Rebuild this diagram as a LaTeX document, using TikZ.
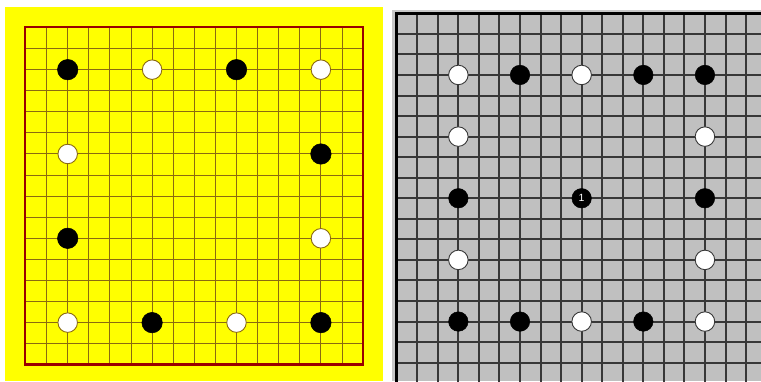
\documentclass[tikz,border=0pt]{standalone}
\usepackage{fontspec}
\setsansfont{Liberation Sans}
\definecolor{boardyellow}{HTML}{FFFF00}
\definecolor{edgered}{HTML}{990000}
\definecolor{gridbrown}{HTML}{8A6A10}
\definecolor{boardgray}{HTML}{C0C0C0}
\definecolor{rimgray}{HTML}{C8C8C8}
\definecolor{gridgray}{HTML}{383838}
\tikzset{
  bstone/.style={circle, fill=black, draw=black, line width=0.5bp, inner sep=0pt, minimum size=#1},
  wstone/.style={circle, fill=white, draw=#1, line width=0.9bp, inner sep=0pt, minimum size=19.5bp},
  bstone/.default=20.5bp,
  wstone/.default=gridbrown,
  lgrid/.style={gridbrown, line width=1.2bp},
  rgrid/.style={gridgray, line width=1.8bp},
}
\begin{document}
\begin{tikzpicture}[x=1bp,y=-1bp]
\useasboundingbox (0,0) rectangle (761,381);
\clip (0,0) rectangle (761,381);
% ---------- left board ----------
\fill[boardyellow] (5,7) rectangle (383,381);
\foreach \i in {1,...,15} {
  \draw[lgrid] ({round(25+\i*21.1)+0.5},27) -- ({round(25+\i*21.1)+0.5},364);
  \draw[lgrid] (25,{round(27+\i*21.08)+0.5}) -- (363,{round(27+\i*21.08)+0.5});
}
\draw[edgered, line width=2.2bp] (25,27) rectangle (363,364.5);
\newcommand{\lx}[1]{25.5+#1*21.1}
\newcommand{\ly}[1]{27.5+#1*21.08}
\node[bstone] (L1) at ({\lx{2}},{\ly{2}}) {};
\node[wstone] (L2) at ({\lx{6}},{\ly{2}}) {};
\node[bstone] (L3) at ({\lx{10}},{\ly{2}}) {};
\node[wstone] (L4) at ({\lx{14}},{\ly{2}}) {};
\node[wstone] (L5) at ({\lx{2}},{\ly{6}}) {};
\node[bstone] (L6) at ({\lx{14}},{\ly{6}}) {};
\node[bstone] (L7) at ({\lx{2}},{\ly{10}}) {};
\node[wstone] (L8) at ({\lx{14}},{\ly{10}}) {};
\node[wstone] (L9) at ({\lx{2}},{\ly{14}}) {};
\node[bstone] (L10) at ({\lx{6}},{\ly{14}}) {};
\node[wstone] (L11) at ({\lx{10}},{\ly{14}}) {};
\node[bstone] (L12) at ({\lx{14}},{\ly{14}}) {};
% ---------- right board ----------
\fill[rimgray] (392,10) rectangle (761,381);
\fill[boardgray] (396,13) rectangle (761,381);
\foreach \i in {1,...,18} {
  \draw[rgrid] ({round(396.7+\i*20.55)},13) -- ({round(396.7+\i*20.55)},400);
  \draw[rgrid] (396,{round(13.3+\i*20.55)}) -- (780,{round(13.3+\i*20.55)});
}
\draw[black, line width=3bp] (396.5,400) -- (396.5,13.5) -- (780,13.5);
\newcommand{\rx}[1]{396.7+#1*20.55}
\newcommand{\ry}[1]{13.3+#1*20.55}
\node[wstone=gridgray] (R1) at ({\rx{3}},{\ry{3}}) {};
\node[bstone=19.5bp] (R2) at ({\rx{6}},{\ry{3}}) {};
\node[wstone=gridgray] (R3) at ({\rx{9}},{\ry{3}}) {};
\node[bstone=19.5bp] (R4) at ({\rx{12}},{\ry{3}}) {};
\node[bstone=19.5bp] (R5) at ({\rx{15}},{\ry{3}}) {};
\node[wstone=gridgray] (R6) at ({\rx{3}},{\ry{6}}) {};
\node[wstone=gridgray] (R7) at ({\rx{15}},{\ry{6}}) {};
\node[bstone=19.5bp] (R8) at ({\rx{3}},{\ry{9}}) {};
\node[bstone=19.5bp, text=white, font=\sffamily\fontsize{10.5}{10.5}\selectfont] (R9) at ({\rx{9}},{\ry{9}}) {1};
\node[bstone=19.5bp] (R10) at ({\rx{15}},{\ry{9}}) {};
\node[wstone=gridgray] (R11) at ({\rx{3}},{\ry{12}}) {};
\node[wstone=gridgray] (R12) at ({\rx{15}},{\ry{12}}) {};
\node[bstone=19.5bp] (R13) at ({\rx{3}},{\ry{15}}) {};
\node[bstone=19.5bp] (R14) at ({\rx{6}},{\ry{15}}) {};
\node[wstone=gridgray] (R15) at ({\rx{9}},{\ry{15}}) {};
\node[bstone=19.5bp] (R16) at ({\rx{12}},{\ry{15}}) {};
\node[wstone=gridgray] (R17) at ({\rx{15}},{\ry{15}}) {};
\end{tikzpicture}
\end{document}
